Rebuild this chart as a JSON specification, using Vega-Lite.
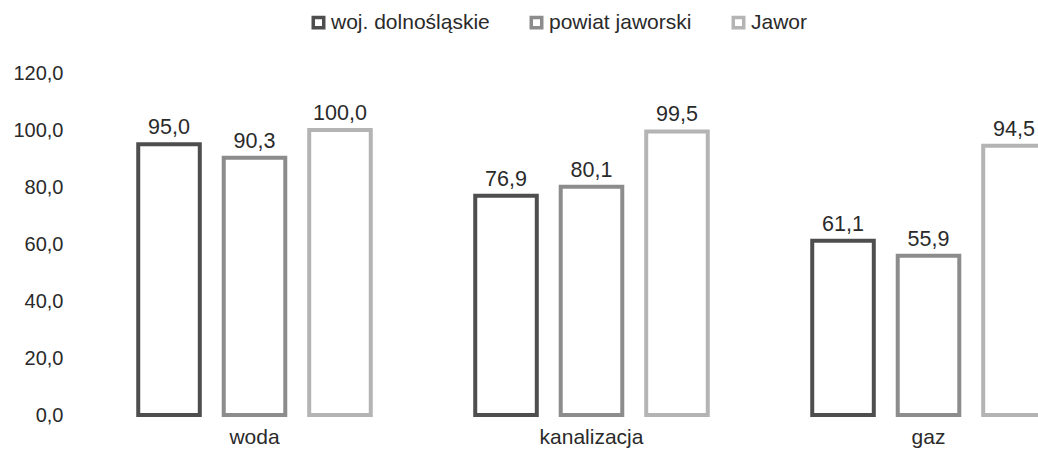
{
  "$schema": "https://vega.github.io/schema/vega-lite/v6.json",
  "autosize": "none",
  "width": 952,
  "height": 342,
  "padding": {"left": 86, "top": 73, "right": 0, "bottom": 42},
  "background": "white",
  "config": {
    "font": "Liberation Sans",
    "view": {"stroke": null},
    "locale": {"number": {"decimal": ",", "thousands": " ", "grouping": [3], "currency": ["", " zł"]}}
  },
  "data": {
    "values": [
      {"kategoria": "woda", "obszar": "woj. dolnośląskie", "wartosc": 95.0},
      {"kategoria": "woda", "obszar": "powiat jaworski", "wartosc": 90.3},
      {"kategoria": "woda", "obszar": "Jawor", "wartosc": 100.0},
      {"kategoria": "kanalizacja", "obszar": "woj. dolnośląskie", "wartosc": 76.9},
      {"kategoria": "kanalizacja", "obszar": "powiat jaworski", "wartosc": 80.1},
      {"kategoria": "kanalizacja", "obszar": "Jawor", "wartosc": 99.5},
      {"kategoria": "gaz", "obszar": "woj. dolnośląskie", "wartosc": 61.1},
      {"kategoria": "gaz", "obszar": "powiat jaworski", "wartosc": 55.9},
      {"kategoria": "gaz", "obszar": "Jawor", "wartosc": 94.5}
    ]
  },
  "encoding": {
    "x": {
      "field": "kategoria",
      "type": "nominal",
      "sort": ["woda", "kanalizacja", "gaz"],
      "scale": {"range": [0, 1011], "paddingInner": 0.31, "paddingOuter": 0.155},
      "axis": {"title": null, "labelAngle": 0, "ticks": false, "domain": false, "labelFontSize": 21, "labelColor": "#2a2a2a", "labelPadding": 11}
    },
    "xOffset": {
      "field": "obszar",
      "type": "nominal",
      "sort": ["woj. dolnośląskie", "powiat jaworski", "Jawor"],
      "scale": {"paddingInner": 0.28, "paddingOuter": 0}
    },
    "y": {
      "field": "wartosc",
      "type": "quantitative",
      "scale": {"domain": [0, 120], "nice": false},
      "axis": {"title": null, "grid": false, "ticks": false, "domain": false, "values": [0, 20, 40, 60, 80, 100, 120], "format": ".1f", "labelFontSize": 20, "labelColor": "#2a2a2a", "labelPadding": 23}
    }
  },
  "layer": [
    {
      "mark": {"type": "bar", "fill": "white", "strokeWidth": 4},
      "encoding": {
        "stroke": {
          "field": "obszar",
          "type": "nominal",
          "sort": ["woj. dolnośląskie", "powiat jaworski", "Jawor"],
          "scale": {"domain": ["woj. dolnośląskie", "powiat jaworski", "Jawor"], "range": ["#4e4e4e", "#8c8c8c", "#b4b4b4"]},
          "legend": {
            "title": null,
            "orient": "none",
            "direction": "horizontal",
            "legendX": 222,
            "legendY": -61,
            "symbolType": "square",
            "symbolSize": 110,
            "symbolStrokeWidth": 3.5,
            "symbolFillColor": "white",
            "labelFontSize": 21,
            "labelColor": "#2a2a2a",
            "labelOffset": 2,
            "columnPadding": 34
          }
        }
      }
    },
    {
      "mark": {"type": "text", "baseline": "alphabetic", "dy": -10, "fontSize": 21.5, "color": "#2a2a2a"},
      "encoding": {
        "text": {"field": "wartosc", "type": "quantitative", "format": ".1f"}
      }
    }
  ]
}
